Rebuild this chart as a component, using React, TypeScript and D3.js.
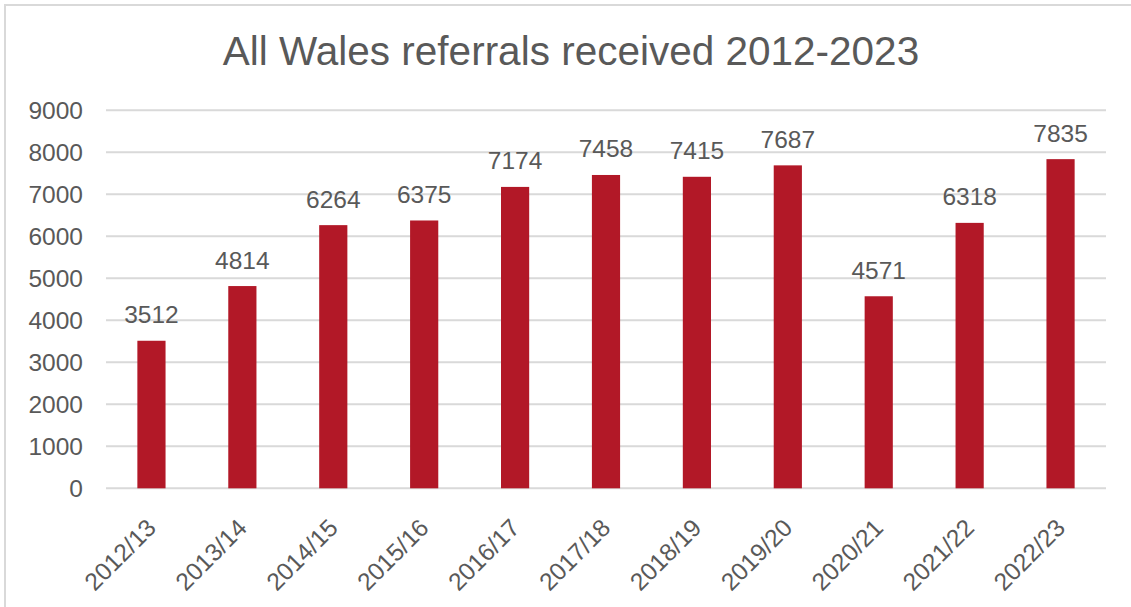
import React from "react";
import * as d3 from "d3";

const categories = ["2012/13","2013/14","2014/15","2015/16","2016/17","2017/18","2018/19","2019/20","2020/21","2021/22","2022/23"];
const referrals = [3512, 4814, 6264, 6375, 7174, 7458, 7415, 7687, 4571, 6318, 7835];
const yTicks = [0, 1000, 2000, 3000, 4000, 5000, 6000, 7000, 8000, 9000];
const title = "All Wales referrals received 2012-2023";

const W = 1131, H = 607;
const plotLeft = 106, plotRight = 1106, plotTop = 110.2, plotBottom = 488.3;
const font = "'Liberation Sans', Arial, sans-serif";
const textColor = "#595959";

export default function App() {
  const x = d3.scaleBand<string>().domain(categories).range([plotLeft, plotRight]).paddingInner(0.69).paddingOuter(0.345);
  const y = d3.scaleLinear().domain([0, 9000]).range([plotBottom, plotTop]);
  const bw = x.bandwidth();
  return (
    <svg width={W} height={H} style={{ position: "absolute", left: 0, top: 0, background: "#fff" }} fontFamily={font}>
      <rect x={5} y={5} width={W + 10} height={H + 10} fill="#fff" stroke="#D9D9D9" strokeWidth={2} />
      <text x={571} y={65} textAnchor="middle" fontSize={40.5} fill={textColor}>{title}</text>
      {yTicks.map(t => (
        <g key={t}>
          <line x1={plotLeft} x2={plotRight} y1={y(t)} y2={y(t)} stroke="#D9D9D9" strokeWidth={2} />
          <text x={83} y={y(t)} dy="0.35em" textAnchor="end" fontSize={24.5} fill={textColor}>{t}</text>
        </g>
      ))}
      {categories.map((c, i) => {
        const v = referrals[i];
        const cx = (x(c) as number) + bw / 2;
        return (
          <g key={c}>
            <rect x={x(c)} y={y(v)} width={bw} height={plotBottom - y(v)} fill="#B21827" />
            <text x={cx} y={y(v) - 17.5} textAnchor="middle" fontSize={24.5} fill={textColor}>{v}</text>
            <text transform={`translate(${cx + 6},${plotBottom + 41}) rotate(-45)`} textAnchor="end" fontSize={24.5} fill={textColor}>{c}</text>
          </g>
        );
      })}
    </svg>
  );
}
